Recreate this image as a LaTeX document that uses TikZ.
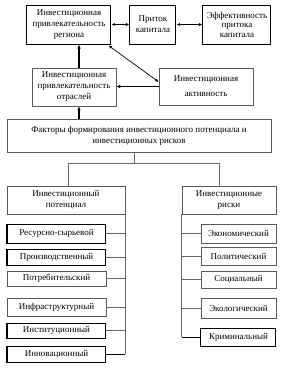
\documentclass[tikz,border=0pt]{standalone}
\usepackage{fontspec}
\setmainfont{Liberation Serif}
\usetikzlibrary{arrows.meta,calc}
\begin{document}
\begin{tikzpicture}[x=1pt,y=-1pt,
  boxbase/.style={rectangle,inner sep=0pt,align=center,font=\fontsize{9}{11}\selectfont},
  darkbox/.style={boxbase,draw=black,line width=1pt},
  lightbox/.style={boxbase,draw=black!65,line width=0.6pt},
  conn/.style={draw=black!60,line width=0.6pt},
  darkconn/.style={draw=black,line width=1pt},
  bigarrow/.style={draw=black,line width=1.3pt,-{Latex[length=4pt,width=3.5pt]}},
  dblarrow/.style={draw=black,line width=0.7pt,{Latex[length=3.5pt,width=3pt]}-{Latex[length=3.5pt,width=3pt]}}
]
\useasboundingbox (0,0) rectangle (283,368);
\fill[white] (0,0) rectangle (283,368);

% top row
\node[darkbox,minimum width=84pt,minimum height=39pt] (b1) at (69,24.5)
  {Инвестиционная\\привлекательность\\региона};
\node[darkbox,minimum width=46pt,minimum height=39pt] (b2) at (153,24.5)
  {Приток\\капитала};
\node[darkbox,minimum width=68pt,minimum height=39pt,font=\fontsize{9}{9.5}\selectfont] (b3) at (237,24.5)
  {Эффективность\\притока\\капитала};

% second row
\node[lightbox,minimum width=84pt,minimum height=38pt] (b4) at (74,87)
  {Инвестиционная\\привлекательность\\отраслей};
\node[lightbox,minimum width=94pt,minimum height=37pt] (b5) at (206,86.5)
  {Инвестиционная\\[4pt]активность};

% factors
\node[lightbox,minimum width=264pt,minimum height=33pt] (f) at (139,135.5)
  {Факторы формирования инвестиционного потенциала и\\инвестиционных рисков};

% headers
\node[lightbox,minimum width=118pt,minimum height=28pt] (lh) at (66,200)
  {Инвестиционный\\потенциал};
\node[lightbox,minimum width=94pt,minimum height=28pt] (rh) at (229,200)
  {Инвестиционные\\риски};

% left items
\node[darkbox,minimum width=99pt,minimum height=19pt] (L1) at (56.5,233.5) {Ресурсно-сырьевой};
\node[darkbox,minimum width=99pt,minimum height=16pt] (L2) at (56.5,257) {Производственный};
\node[lightbox,minimum width=99pt,minimum height=15pt] (L3) at (56.5,278.5) {Потребительский};
\node[lightbox,minimum width=99pt,minimum height=18pt] (L4) at (56.5,307) {Инфраструктурный};
\node[darkbox,minimum width=99pt,minimum height=15pt] (L5) at (56.5,330.5) {Институционный};
\node[darkbox,minimum width=99pt,minimum height=16pt] (L6) at (56.5,354) {Инновационный};

% right items
\node[lightbox,minimum width=75pt,minimum height=19pt] (R1) at (238.5,233.5) {Экономический};
\node[lightbox,minimum width=75pt,minimum height=18pt] (R2) at (238.5,256) {Политический};
\node[lightbox,minimum width=75pt,minimum height=17pt] (R3) at (238.5,279.5) {Социальный};
\node[lightbox,minimum width=75pt,minimum height=20pt] (R4) at (238.5,308) {Экологический};
\node[darkbox,minimum width=75pt,minimum height=18pt] (R5) at (238.5,337) {Криминальный};

% top arrows
\draw[dblarrow] (b1.east) -- (b2.west);
\draw[dblarrow] (b2.east) -- (b3.west);
\draw[dblarrow] ($(b1.south east)+(-3,1)$) -- ($(b5.west)+(0,-4.5)$);
\draw[bigarrow] ([xshift=5pt]b4.north) -- ([xshift=5pt]b4.north |- b1.south);
\draw[bigarrow] (b5.west) -- (b5.west -| b4.east);
\draw[bigarrow] ([xshift=5pt]b4.south |- f.north) -- ([xshift=5pt]b4.south);

% split
\coordinate (sp) at (134,163);
\draw[conn] ([xshift=-5pt]f.south) -- (sp);
\draw[conn] ([xshift=2pt]lh.north) -- ([xshift=2pt]lh.north |- sp) -- ([xshift=-10pt]rh.north |- sp) -- ([xshift=-10pt]rh.north);

% left bus
\draw[conn] (lh.south east) -- (lh.south east |- L6.east);
\foreach \n in {L1,L2,L3,L4,L5} \draw[conn] (\n.east) -- (\n.east -| lh.south east);
\draw[darkconn] (L6.east) -- (L6.east -| lh.south east);

% right bus
\draw[conn] (rh.south west) -- (rh.south west |- R5.west);
\foreach \n in {R1,R2,R3,R4} \draw[conn] (\n.west) -- (\n.west -| rh.south west);
\draw[darkconn] (R5.west) -- (R5.west -| rh.south west);
\end{tikzpicture}
\end{document}
